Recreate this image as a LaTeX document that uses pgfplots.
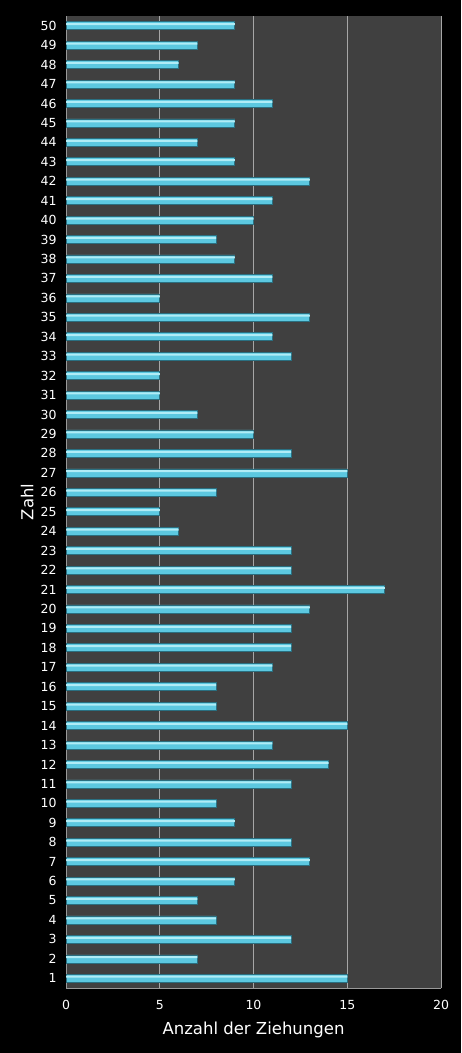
\documentclass[border=0pt]{standalone}
\usepackage{pgfplots}
\pgfplotsset{compat=1.18}
\usepackage{fontspec}
\setmainfont{DejaVu Sans}
\definecolor{bg}{HTML}{404040}
\definecolor{barc}{HTML}{5CC8E0}
\definecolor{bardark}{HTML}{2A6F80}
\definecolor{barlight}{HTML}{B0ECF6}
\pgfplotstableread{
y v
1 15
2 7
3 12
4 8
5 7
6 9
7 13
8 12
9 9
10 8
11 12
12 14
13 11
14 15
15 8
16 8
17 11
18 12
19 12
20 13
21 17
22 12
23 12
24 6
25 5
26 8
27 15
28 12
29 10
30 7
31 5
32 5
33 12
34 11
35 13
36 5
37 11
38 9
39 8
40 10
41 11
42 13
43 9
44 7
45 9
46 11
47 9
48 6
49 7
50 9
}\data
\begin{document}
\begin{tikzpicture}[x=1pt,y=1pt]
\fill[black] (0,0) rectangle (461,1053);
\begin{axis}[
  at={(66pt,65pt)}, anchor=south west,
  scale only axis, width=375pt, height=972pt,
  xbar, bar width=8pt,
  xmin=0, xmax=20, ymin=0.5, ymax=50.5,
  xtick={0,5,...,20}, ytick={1,...,50},
  axis background/.style={fill=bg},
  axis x line*=bottom, axis y line*=left,
  axis line style={draw=gray!80, line width=0.8pt, -},
  major tick length=0pt,
  xmajorgrids, major grid style={draw=gray!70!white, line width=0.6pt},
  ticklabel style={font=\fontsize{12.5}{14}\selectfont, text=white},
  /pgf/number format/assume math mode=true,
  xticklabel style={yshift=-9pt},
  yticklabel style={xshift=-6pt},
  xlabel={Anzahl der Ziehungen}, ylabel={Zahl},
  label style={font=\fontsize{16.5}{18}\selectfont, text=white},
  xlabel style={yshift=-5pt},
  ylabel style={yshift=0pt},
  clip=false,
]
\addplot[draw=bardark, line width=0.6pt, fill=barc, bar shift=0pt] table[x=v, y=y] {\data};
\addplot[draw=none, fill=barlight, bar width=2pt, bar shift=1.6pt] table[x=v, y=y] {\data};
\end{axis}
\end{tikzpicture}
\end{document}
